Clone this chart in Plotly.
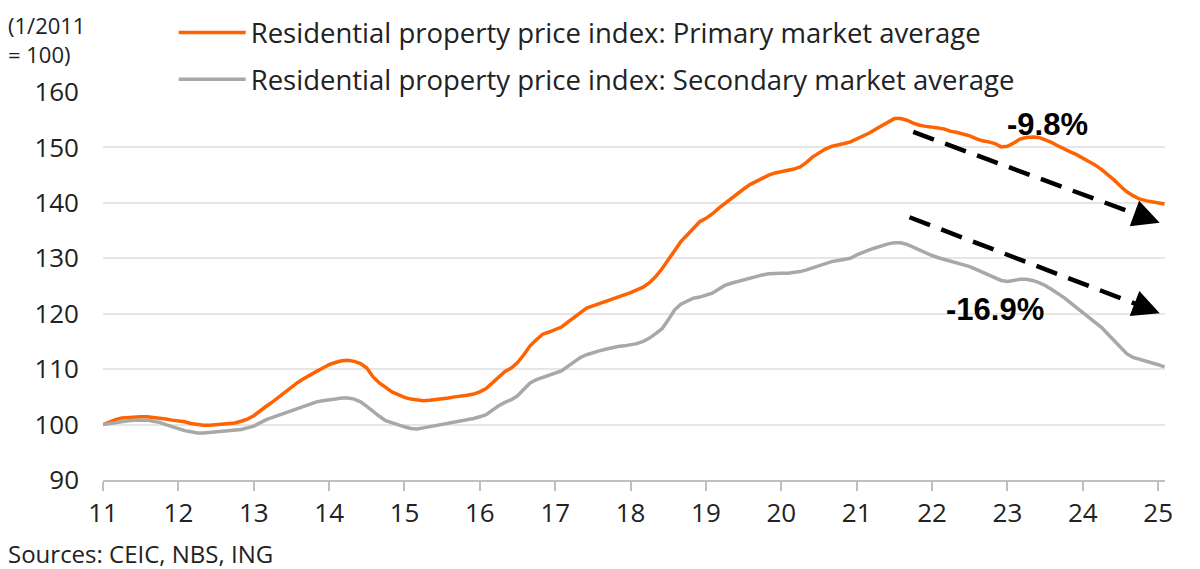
import plotly.graph_objects as go

# monthly index, Jan 2011 = 100, Jan 2011 .. Feb 2025
start_year = 11
primary = [
    100.0, 100.5, 100.9, 101.2, 101.3, 101.4, 101.4, 101.4, 101.3, 101.2, 101.0, 100.8,
    100.7, 100.5, 100.2, 100.0, 99.9, 99.9, 100.0, 100.1, 100.2, 100.3, 100.6, 101.0,
    101.6, 102.5, 103.3, 104.1, 105.0, 105.9, 106.9, 107.6, 108.3, 109.0, 109.6, 110.2,
    110.8, 111.2, 111.5, 111.6, 111.4, 111.0, 110.2, 108.6, 107.5, 106.7, 105.9, 105.4,
    104.9, 104.6, 104.4, 104.3, 104.4, 104.5, 104.7, 104.8, 105.0, 105.1, 105.3, 105.5,
    105.9, 106.5, 107.6, 108.5, 109.6, 110.2, 111.2, 112.6, 114.2, 115.3, 116.3, 116.7,
    117.1, 117.6, 118.5, 119.4, 120.3, 121.0, 121.4, 121.8, 122.1, 122.5, 123.0, 123.4,
    123.8, 124.3, 124.8, 125.6, 126.7, 128.1, 129.7, 131.4, 133.0, 134.2, 135.5, 136.6,
    137.2, 138.0, 139.0, 139.9, 140.9, 141.7, 142.5, 143.3, 143.9, 144.5, 145.0, 145.4,
    145.6, 145.8, 146.1, 146.5, 147.3, 148.3, 149.0, 149.7, 150.2, 150.4, 150.7, 151.0,
    151.5, 152.0, 152.6, 153.3, 153.9, 154.6, 155.2, 155.2, 154.9, 154.4, 154.0, 153.8,
    153.7, 153.5, 153.3, 152.9, 152.7, 152.4, 152.1, 151.6, 151.2, 151.0, 150.7, 150.1,
    150.2, 150.8, 151.5, 151.8, 151.9, 151.8, 151.4, 150.9, 150.3, 149.7, 149.2, 148.7,
    148.1, 147.5, 146.8, 146.0, 145.1, 144.1, 143.0, 142.0, 141.3, 140.7, 140.4, 140.2,
    140.0, 139.8,
]
secondary = [
    100.0, 100.2, 100.4, 100.6, 100.7, 100.8, 100.8, 100.8, 100.6, 100.4, 100.0, 99.6,
    99.2, 98.9, 98.7, 98.5, 98.5, 98.6, 98.7, 98.8, 98.9, 99.0, 99.1, 99.4,
    99.7, 100.3, 100.9, 101.3, 101.7, 102.1, 102.5, 102.9, 103.3, 103.8, 104.1, 104.3,
    104.4, 104.6, 104.8, 104.8, 104.6, 104.1, 103.3, 102.3, 101.5, 100.7, 100.3, 99.9,
    99.6, 99.3, 99.2, 99.4, 99.6, 99.8, 100.1, 100.3, 100.5, 100.7, 100.9, 101.1,
    101.4, 101.8, 102.6, 103.4, 104.0, 104.5, 105.2, 106.3, 107.5, 108.1, 108.5, 108.9,
    109.2, 109.7, 110.5, 111.3, 112.1, 112.6, 113.0, 113.3, 113.6, 113.9, 114.1, 114.2,
    114.4, 114.6, 115.0, 115.6, 116.4, 117.3, 118.9, 120.7, 121.7, 122.3, 122.8, 123.0,
    123.3, 123.7, 124.4, 125.1, 125.5, 125.8, 126.2, 126.5, 126.8, 127.0, 127.2, 127.3,
    127.3, 127.3, 127.4, 127.6, 127.9, 128.3, 128.7, 129.1, 129.4, 129.6, 129.8, 130.0,
    130.6, 131.1, 131.5, 131.9, 132.3, 132.6, 132.8, 132.8, 132.5, 132.0, 131.5, 130.9,
    130.5, 130.1, 129.8, 129.5, 129.2, 128.9, 128.5, 128.0, 127.5, 127.0, 126.6, 126.0,
    125.8, 126.0, 126.2, 126.2, 126.0, 125.6, 125.1, 124.4, 123.7, 122.9, 122.0, 121.1,
    120.2, 119.3, 118.5, 117.5, 116.3, 115.1, 113.9, 112.8, 112.1, 111.8, 111.4, 111.1,
    110.8, 110.4,
]
x = [start_year + i / 12 for i in range(len(primary))]

tick_vals = list(range(11, 26))
tick_text = [str(t) for t in tick_vals]

FONT = "Open Sans"
ORANGE = "#FF6200"
GREY = "#A8A8A8"

fig = go.Figure()
fig.add_trace(go.Scatter(
    x=x, y=primary, mode="lines", line=dict(color=ORANGE, width=3.5),
    name="Residential property price index: Primary market average",
    legendgroup="a",
))
fig.add_trace(go.Scatter(
    x=x, y=secondary, mode="lines", line=dict(color=GREY, width=3.5),
    name="Residential property price index: Secondary market average",
    legendgroup="b",
))

# dashed trend arrows
arrows = [
    ((21.75, 152.8), (25.02, 136.4)),
    ((21.70, 137.4), (25.02, 120.1)),
]
for (x0, y0), (x1, y1) in arrows:
    # stop the dashes a little before the head
    fx = x0 + (x1 - x0) * 0.93
    fy = y0 + (y1 - y0) * 0.93
    fig.add_shape(type="line", x0=x0, y0=y0, x1=fx, y1=fy,
                  line=dict(color="black", width=4.5, dash="22px,12px"))
    fig.add_annotation(x=x1, y=y1, ax=fx, ay=fy, axref="x", ayref="y",
                       xref="x", yref="y", text="", showarrow=True,
                       arrowhead=2, arrowsize=1.2, arrowwidth=4.5,
                       arrowcolor="black")

fig.add_annotation(x=23.53, y=154.2, text="<b>-9.8%</b>", showarrow=False,
                   font=dict(family="Liberation Sans", size=31, color="black"))
fig.add_annotation(x=22.83, y=120.7, text="<b>-16.9%</b>", showarrow=False,
                   font=dict(family="Liberation Sans", size=31, color="black"))

fig.add_annotation(x=0, y=1, xref="paper", yref="paper", xanchor="left",
                   yanchor="top", text="(1/2011<br>= 100)", showarrow=False,
                   align="left", xshift=-97, yshift=84,
                   font=dict(family=FONT, size=22, color="#222"))
fig.add_annotation(x=0, y=0, xref="paper", yref="paper", xanchor="left",
                   yanchor="middle", text="Sources: CEIC, NBS, ING",
                   showarrow=False, align="left", xshift=-97, yshift=-73,
                   font=dict(family=FONT, size=24, color="#222"))

# page body has an 8px margin, so the figure is sized/placed to compensate
fig.update_layout(
    width=1192, height=561,
    margin=dict(l=95, r=35, t=84, b=89, autoexpand=False),
    paper_bgcolor="white", plot_bgcolor="white",
    font=dict(family=FONT, size=22, color="#222"),
    showlegend=True,
    legend=dict(x=0.139, y=1.010, xref="container", yref="container",
                xanchor="left", yanchor="top", itemwidth=67,
                font=dict(family=FONT, size=27.5, color="#222"),
                tracegroupgap=8, bgcolor="rgba(0,0,0,0)"),
    xaxis=dict(range=[11, 25.09], tickvals=tick_vals, ticktext=tick_text,
               showgrid=False, zeroline=False, showline=True,
               linecolor="#BFBFBF", linewidth=1.5, ticks="outside",
               ticklen=9, tickcolor="#BFBFBF", tickwidth=1.5,
               tickfont=dict(size=26)),
    yaxis=dict(range=[90, 160], dtick=10, showgrid=True, gridcolor="#E6E6E6",
               gridwidth=1.5, zeroline=False, showline=False, ticks="",
               ticklabelstandoff=23, tickfont=dict(size=26)),
)

fig.write_html("out.html")
